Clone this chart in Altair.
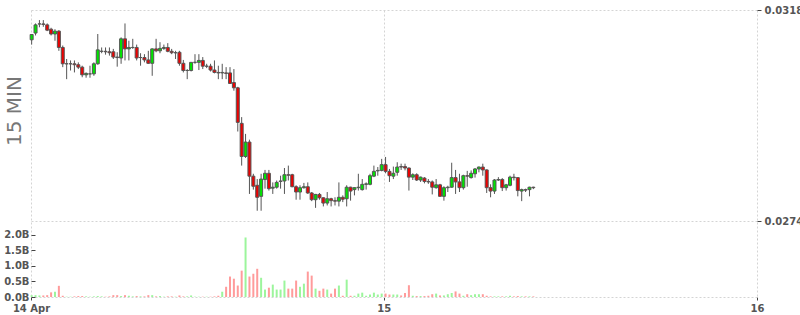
import altair as alt
import pandas as pd

# OHLC (price) for 130 fifteen-minute candles starting 14 Apr 01:15 UTC
opens = [0.03118,0.03132,0.03151,0.03151,0.03149,0.03140,0.03130,0.03136,0.03102,0.03068,
         0.03068,0.03068,0.03066,0.03061,0.03045,0.03047,0.03047,0.03068,0.03094,0.03094,
         0.03093,0.03093,0.03082,0.03080,0.03120,0.03099,0.03102,0.03102,0.03081,0.03081,
         0.03076,0.03069,0.03099,0.03095,0.03100,0.03102,0.03094,0.03091,0.03092,0.03069,
         0.03054,0.03054,0.03071,0.03071,0.03075,0.03063,0.03063,0.03055,0.03050,0.03049,
         0.03049,0.03049,0.03029,0.03018,0.02944,0.02875,0.02905,0.02834,0.02815,0.02792,
         0.02827,0.02840,0.02809,0.02811,0.02823,0.02824,0.02837,0.02837,0.02812,0.02801,
         0.02810,0.02812,0.02799,0.02785,0.02796,0.02789,0.02778,0.02787,0.02783,0.02782,
         0.02790,0.02787,0.02811,0.02806,0.02810,0.02806,0.02817,0.02817,0.02834,0.02845,
         0.02846,0.02858,0.02844,0.02834,0.02842,0.02854,0.02854,0.02851,0.02832,0.02837,
         0.02826,0.02830,0.02823,0.02822,0.02810,0.02816,0.02792,0.02810,0.02811,0.02831,
         0.02822,0.02810,0.02835,0.02831,0.02839,0.02849,0.02853,0.02847,0.02810,0.02803,
         0.02826,0.02827,0.02810,0.02815,0.02832,0.02831,0.02803,0.02806,0.02806,0.02811]
closes = [0.03129,0.03149,0.03151,0.03150,0.03138,0.03130,0.03136,0.03102,0.03068,0.03068,
          0.03068,0.03066,0.03061,0.03045,0.03048,0.03047,0.03068,0.03097,0.03094,0.03093,
          0.03091,0.03082,0.03081,0.03120,0.03099,0.03102,0.03102,0.03080,0.03081,0.03076,
          0.03069,0.03099,0.03095,0.03100,0.03102,0.03094,0.03091,0.03091,0.03069,0.03054,
          0.03054,0.03071,0.03071,0.03075,0.03063,0.03063,0.03055,0.03050,0.03049,0.03050,
          0.03048,0.03027,0.03018,0.02946,0.02875,0.02905,0.02834,0.02813,0.02790,0.02828,
          0.02840,0.02808,0.02811,0.02821,0.02824,0.02837,0.02836,0.02812,0.02801,0.02810,
          0.02812,0.02799,0.02785,0.02796,0.02789,0.02778,0.02787,0.02783,0.02782,0.02790,
          0.02786,0.02811,0.02803,0.02810,0.02811,0.02817,0.02818,0.02835,0.02844,0.02846,
          0.02858,0.02844,0.02835,0.02840,0.02853,0.02853,0.02851,0.02832,0.02837,0.02826,
          0.02832,0.02823,0.02822,0.02811,0.02816,0.02792,0.02810,0.02811,0.02831,0.02822,
          0.02810,0.02835,0.02834,0.02840,0.02849,0.02853,0.02847,0.02810,0.02803,0.02826,
          0.02827,0.02810,0.02816,0.02832,0.02831,0.02804,0.02806,0.02805,0.02811,0.02810]
highs = [0.03130,0.03152,0.03159,0.03159,0.03152,0.03143,0.03140,0.03138,0.03106,0.03078,
         0.03075,0.03075,0.03071,0.03064,0.03050,0.03064,0.03071,0.03130,0.03102,0.03102,
         0.03102,0.03099,0.03092,0.03123,0.03152,0.03116,0.03120,0.03108,0.03090,0.03088,
         0.03095,0.03100,0.03120,0.03113,0.03108,0.03111,0.03099,0.03095,0.03095,0.03076,
         0.03057,0.03071,0.03088,0.03088,0.03082,0.03068,0.03068,0.03075,0.03064,0.03068,
         0.03061,0.03061,0.03057,0.03020,0.02957,0.02922,0.02910,0.02839,0.02828,0.02839,
         0.02847,0.02847,0.02821,0.02825,0.02835,0.02851,0.02856,0.02839,0.02815,0.02815,
         0.02820,0.02821,0.02801,0.02797,0.02799,0.02790,0.02801,0.02789,0.02790,0.02821,
         0.02794,0.02815,0.02812,0.02811,0.02839,0.02828,0.02821,0.02839,0.02856,0.02853,
         0.02870,0.02874,0.02849,0.02854,0.02863,0.02860,0.02860,0.02852,0.02840,0.02840,
         0.02833,0.02832,0.02828,0.02825,0.02828,0.02818,0.02813,0.02814,0.02862,0.02847,
         0.02839,0.02837,0.02845,0.02846,0.02851,0.02854,0.02860,0.02848,0.02817,0.02828,
         0.02832,0.02830,0.02818,0.02835,0.02839,0.02831,0.02808,0.02808,0.02812,0.02812]
lows = [0.03108,0.03127,0.03144,0.03145,0.03136,0.03127,0.03116,0.03095,0.03061,0.03036,
        0.03054,0.03050,0.03057,0.03040,0.03039,0.03039,0.03043,0.03066,0.03090,0.03087,
        0.03085,0.03078,0.03062,0.03068,0.03075,0.03075,0.03099,0.03075,0.03064,0.03071,
        0.03068,0.03043,0.03092,0.03090,0.03097,0.03092,0.03088,0.03078,0.03064,0.03050,
        0.03036,0.03052,0.03068,0.03055,0.03057,0.03059,0.03052,0.03048,0.03036,0.03036,
        0.03036,0.03026,0.03012,0.02927,0.02856,0.02872,0.02797,0.02806,0.02762,0.02762,
        0.02808,0.02804,0.02797,0.02808,0.02808,0.02797,0.02825,0.02811,0.02785,0.02785,
        0.02808,0.02797,0.02782,0.02768,0.02785,0.02771,0.02773,0.02771,0.02773,0.02771,
        0.02780,0.02771,0.02783,0.02794,0.02804,0.02804,0.02806,0.02815,0.02832,0.02835,
        0.02844,0.02840,0.02822,0.02828,0.02835,0.02847,0.02846,0.02804,0.02826,0.02824,
        0.02822,0.02819,0.02818,0.02796,0.02808,0.02792,0.02783,0.02801,0.02810,0.02797,
        0.02801,0.02806,0.02812,0.02829,0.02831,0.02842,0.02835,0.02799,0.02790,0.02797,
        0.02824,0.02803,0.02804,0.02813,0.02825,0.02792,0.02782,0.02801,0.02792,0.02807]
# volume, in billions
volumes_b = [0.06,0.06,0.05,0.05,0.06,0.15,0.17,0.36,0.04,0.01,
             0.01,0.02,0.03,0.03,0.02,0.01,0.02,0.03,0.02,0.01,
             0.02,0.06,0.06,0.03,0.06,0.04,0.02,0.03,0.02,0.02,
             0.06,0.06,0.02,0.03,0.01,0.02,0.02,0.01,0.05,0.02,
             0.02,0.05,0.01,0.01,0.01,0.01,0.01,0.02,0.04,0.17,
             0.33,0.66,0.59,0.37,0.85,1.92,0.66,0.75,0.91,0.62,
             0.24,0.30,0.40,0.24,0.24,0.53,0.27,0.27,0.53,0.33,
             0.43,0.82,0.69,0.27,0.20,0.27,0.24,0.11,0.27,0.37,
             0.04,0.56,0.04,0.04,0.11,0.14,0.04,0.08,0.14,0.08,
             0.11,0.11,0.08,0.08,0.08,0.05,0.13,0.38,0.04,0.03,
             0.03,0.03,0.04,0.09,0.11,0.05,0.05,0.09,0.13,0.18,
             0.11,0.04,0.09,0.06,0.09,0.09,0.09,0.04,0.02,0.02,
             0.02,0.02,0.02,0.04,0.02,0.03,0.02,0.02,0.02,0.02]

price_ticks = [0.0274, 0.0318]
volume_ticks = [0.0, 0.5, 1.0, 1.5, 2.0]
panel_title = "15 MIN"

# candle centres (open time + 7.5 min), as UTC ms
times = pd.date_range("2025-04-14 01:22:30", periods=len(opens), freq="15min", tz="UTC")
df = pd.DataFrame({
    "t": (times.astype("int64") // 10**6).astype("int64"),
    "open": opens, "high": highs, "low": lows, "close": closes, "vol": volumes_b,
})

FONT = "DejaVu Sans"
FS = 10
grid_color = "#d4d4d4"
xscale = alt.Scale(type="utc", padding=0, domain=[
    alt.DateTime(year=2025, month=4, date=14, hours=1, minutes=20, utc=True),
    alt.DateTime(year=2025, month=4, date=16, hours=0, minutes=0, utc=True)])
xaxis = alt.Axis(
    values=[alt.DateTime(year=2025, month=4, date=14, hours=1, minutes=20, utc=True),
            alt.DateTime(year=2025, month=4, date=15, utc=True),
            alt.DateTime(year=2025, month=4, date=16, utc=True)],
    labelExpr="utcdate(datum.value) == 14 ? '14 Apr' : utcFormat(datum.value, '%d')",
    grid=True, gridDash=[2, 2], gridColor=grid_color,
    domain=True, domainDash=[2, 2], domainColor=grid_color,
    tickSize=3, tickColor="#444", labelFlush=False, labelPadding=3,
    labelFont=FONT, labelFontSize=FS, labelFontWeight="bold", labelColor="#555", title=None)
X = alt.X("t:T", scale=xscale, axis=xaxis)

pscale = alt.Scale(domain=[0.025824, 0.0318], nice=False, zero=False)
paxis = alt.Axis(orient="right", values=price_ticks, format=".4f", grid=True,
                 gridDash=[2, 2], gridColor=grid_color, domain=False,
                 tickSize=4, tickColor="#444", labelPadding=3, labelFont=FONT,
                 labelFontSize=FS, labelFontWeight="bold", labelColor="#555", title=None)

base = alt.Chart(df)
wicks = base.mark_rule(color="#555555", strokeWidth=1).encode(
    x=X, y=alt.Y("low:Q", scale=pscale, axis=paxis), y2="high:Q")
bodies = base.mark_bar(size=3, stroke="#555555", strokeWidth=1).encode(
    x=X, y=alt.Y("open:Q", scale=pscale, axis=paxis), y2="close:Q",
    fill=alt.condition("datum.close >= datum.open", alt.value("#00e600"), alt.value("#ee0000")))
title_txt = alt.Chart(pd.DataFrame({"label": [panel_title]})).mark_text(
    angle=270, fontSize=20, font=FONT, color="#777777",
    align="center", baseline="middle").encode(
    text="label:N", x=alt.value(-16), y=alt.value(101))
price = alt.layer(wicks, bodies, title_txt)

vscale = alt.Scale(domain=[0, 9.258], nice=False, zero=True)
vaxis = alt.Axis(orient="left", values=volume_ticks, offset=-4, grid=False, domain=False,
                 labelExpr="format(datum.value, '.1f') + 'B'",
                 tickSize=4, tickColor="#444", labelPadding=2, labelFont=FONT,
                 labelFontSize=FS, labelFontWeight="bold", labelColor="#555", title=None)
vol = base.mark_bar(size=2).encode(
    x=X, y=alt.Y("vol:Q", scale=vscale, axis=vaxis),
    color=alt.condition("datum.close >= datum.open", alt.value("#9cf59c"), alt.value("#ff9b9b")))

chart = alt.layer(price, vol).resolve_scale(y="independent").properties(
    width=726, height=287,
    background="white",
    autosize=alt.AutoSizeParams(type="none"),
    padding={"left": 31, "top": 10, "right": 43, "bottom": 18},
).configure_view(stroke=None)

chart.save("out.html", embed_options={"renderer": "svg", "actions": False})
